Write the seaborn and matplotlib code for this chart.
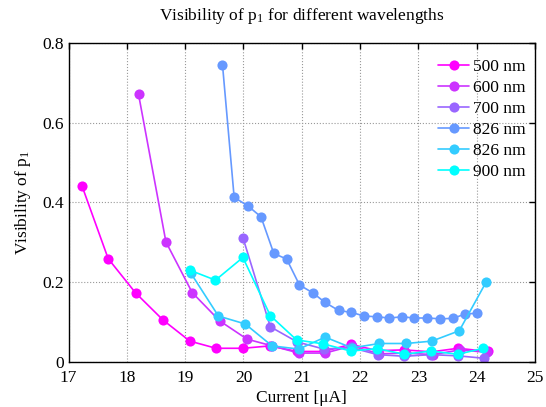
import numpy as np
import pandas as pd
import matplotlib
matplotlib.use("Agg")
import matplotlib.pyplot as plt
from matplotlib import cm
import seaborn as sns

# ---- data ----
labels = ["500 nm", "600 nm", "700 nm", "826 nm", "826 nm", "900 nm"]

x_500 = [17.23, 17.68, 18.15, 18.62, 19.08, 19.53, 19.99, 20.46, 20.92, 21.38, 21.84, 22.30, 22.76, 23.22, 23.68, 24.19]
y_500 = [0.442, 0.259, 0.173, 0.105, 0.052, 0.034, 0.034, 0.040, 0.026, 0.026, 0.044, 0.028, 0.030, 0.025, 0.034, 0.026]

x_600 = [18.20, 18.67, 19.12, 19.59, 20.06, 20.49, 20.95, 21.40, 21.86, 22.33, 22.79, 23.25, 23.71, 24.17]
y_600 = [0.672, 0.301, 0.174, 0.103, 0.057, 0.040, 0.022, 0.022, 0.040, 0.020, 0.022, 0.018, 0.030, 0.024]

x_700 = [19.99, 20.46, 20.92, 21.38, 21.84, 22.30, 22.76, 23.22, 23.68, 24.12]
y_700 = [0.312, 0.088, 0.050, 0.032, 0.036, 0.018, 0.014, 0.018, 0.015, 0.009]

x_826a = [19.64, 19.84, 20.08, 20.30, 20.52, 20.74, 20.96, 21.19, 21.40, 21.63, 21.85,
          22.07, 22.29, 22.50, 22.72, 22.93, 23.15, 23.37, 23.59, 23.80, 24.01]
y_826a = [0.746, 0.413, 0.391, 0.364, 0.272, 0.258, 0.193, 0.173, 0.149, 0.129, 0.124,
          0.115, 0.113, 0.110, 0.113, 0.110, 0.110, 0.108, 0.109, 0.120, 0.122]

x_826b = [19.10, 19.57, 20.03, 20.49, 20.95, 21.40, 21.86, 22.33, 22.79, 23.23, 23.70, 24.16]
y_826b = [0.222, 0.115, 0.095, 0.040, 0.032, 0.062, 0.035, 0.046, 0.046, 0.052, 0.078, 0.200]

x_900 = [19.08, 19.52, 19.99, 20.46, 20.91, 21.37, 21.84, 22.29, 22.76, 23.21, 23.68, 24.11]
y_900 = [0.230, 0.205, 0.262, 0.116, 0.055, 0.045, 0.027, 0.033, 0.019, 0.027, 0.019, 0.034]

xs = [x_500, x_600, x_700, x_826a, x_826b, x_900]
ys = [y_500, y_600, y_700, y_826a, y_826b, y_900]

x_ticks = [17, 18, 19, 20, 21, 22, 23, 24, 25]
y_ticks = [0, 0.2, 0.4, 0.6, 0.8]
y_ticklabels = ["0", "0.2", "0.4", "0.6", "0.8"]

# ---- style ----
sns.set_theme(style="white")
plt.rcParams["font.family"] = ["Liberation Serif", "DejaVu Serif"]
plt.rcParams["mathtext.fontset"] = "custom"
plt.rcParams["mathtext.rm"] = "Liberation Serif"
plt.rcParams["mathtext.it"] = "Liberation Serif:italic"
FS = 12.5
plt.rcParams["font.size"] = FS

colors = cm.cool_r(np.linspace(0, 1, 6))

fig = plt.figure(figsize=(5.46, 4.07), dpi=100)
ax = fig.add_axes([0.1255, 0.111, 0.98 - 0.1255, 0.894 - 0.111])

for x, y, lab, c in zip(xs, ys, labels, colors):
    df = pd.DataFrame({"x": x, "y": y})
    sns.lineplot(data=df, x="x", y="y", ax=ax, color=c, marker="o",
                 markersize=7.3, markeredgewidth=0, linewidth=1.2,
                 sort=False, estimator=None, label=lab)

ax.set_xlim(17, 25)
ax.set_ylim(0, 0.8)
ax.set_xticks(x_ticks)
ax.set_xticklabels([str(t) for t in x_ticks], fontsize=FS)
ax.set_yticks(y_ticks)
ax.set_yticklabels(y_ticklabels, fontsize=FS)
ax.tick_params(direction="in", top=True, right=True, length=4, width=1,
               color="black", labelcolor="black")
ax.tick_params(axis="x", pad=6)
ax.tick_params(axis="y", pad=3)
ax.grid(True, linestyle=":", color="0.6", linewidth=0.8)
for s in ax.spines.values():
    s.set_color("black")
    s.set_linewidth(1.0)

ax.set_xlabel("Current [μA]", fontsize=FS, color="black", labelpad=3)
ax.set_ylabel(r"Visibility of p$_{\mathrm{1}}$", fontsize=FS, color="black", labelpad=7)
ax.set_title(r"Visibility of p$_{\mathrm{1}}$ for different wavelengths",
             fontsize=FS, color="black", pad=17)

leg = ax.legend(loc="upper right", bbox_to_anchor=(1.005, 0.99), frameon=False,
                fontsize=FS, handlelength=1.8, handletextpad=0.2,
                labelspacing=0.28, borderaxespad=0.3)
for t in leg.get_texts():
    t.set_color("black")

fig.savefig("out.png", dpi=100)
